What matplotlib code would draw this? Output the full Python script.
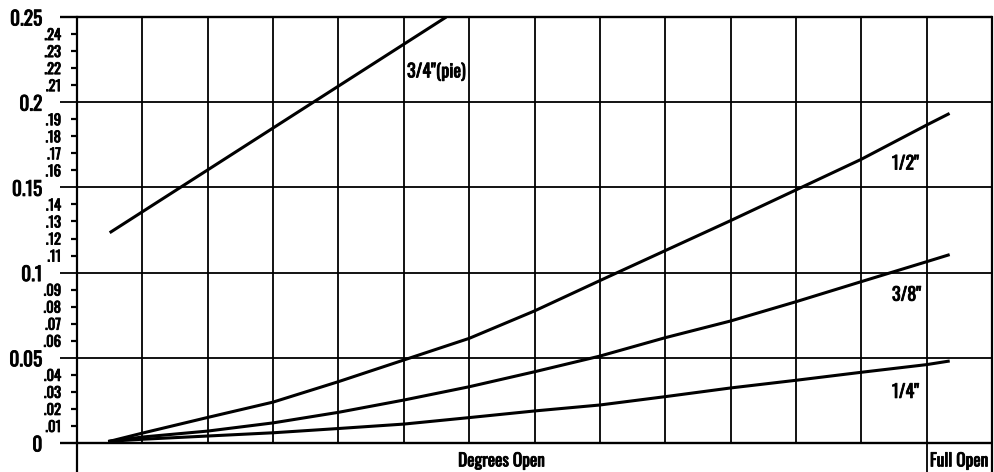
import matplotlib
matplotlib.use("Agg")
import matplotlib.pyplot as plt
from matplotlib import font_manager
import matplotlib.patheffects as pe
import numpy as np

# ---------------- data ----------------
x_pos = [0.5, 1, 2, 3, 4, 5, 6, 7, 8, 9, 10, 11, 12, 13, 13.33]
half_in = [0.001, 0.0058, 0.015, 0.024, 0.036, 0.0487, 0.0614, 0.0775, 0.0953,
           0.1129, 0.1305, 0.1485, 0.1665, 0.1866, 0.193]
three_eighth_in = [0.001, 0.0035, 0.007, 0.0118, 0.018, 0.0252, 0.033, 0.0418,
                   0.051, 0.0618, 0.0716, 0.0829, 0.0947, 0.1064, 0.1103]
quarter_in = [0.001, 0.0022, 0.0041, 0.006, 0.0085, 0.0111, 0.0149, 0.0188,
              0.0223, 0.0272, 0.0323, 0.0368, 0.0415, 0.046, 0.048]
pie_x = [0.5, 5.65]
pie_in = [0.1234, 0.25]

major_ticks = [0, 0.05, 0.1, 0.15, 0.2, 0.25]
major_labels = ["0", "0.05", "0.1", "0.15", "0.2", "0.25"]
minor_ticks = [i / 100 for i in range(1, 25) if i % 5 != 0]
minor_labels = ["." + f"{i:02d}" for i in range(1, 25) if i % 5 != 0]

series_labels = ['3/4"(pie)', '1/2"', '3/8"', '1/4"']
x_title = "Degrees Open"
x_end_label = "Full Open"

# ---------------- font ----------------
avail = {f.name for f in font_manager.fontManager.ttflist}
fam = "DejaVu Sans"
for cand in ["Oswald", "Antonio", "Pathway Gothic One", "Fjalla One",
             "Sofia Sans Extra Condensed", "Liberation Sans Narrow"]:
    if cand in avail:
        fam = cand
        break
plt.rcParams["font.family"] = [fam, "DejaVu Sans"]
WEIGHT = "bold"
BOLD = [pe.withStroke(linewidth=0.6, foreground="black")]

W, H = 995, 472
fig = plt.figure(figsize=(W / 100, H / 100), dpi=100)
x0, x1 = 77, 992
ytop, yzero = 17, 443
ppu = (yzero - ytop) / 0.25
ybot = -(H - yzero) / ppu
ax = fig.add_axes([x0 / W, 0, (x1 - x0) / W, 1 - ytop / H])
ax.set_xlim(0, 14)
ax.set_ylim(ybot, 0.25)

for s in ["bottom", "top"]:
    ax.spines[s].set_visible(False)
ax.spines["left"].set_linewidth(1.6)
ax.spines["right"].set_linewidth(1.6)

# grid
lw_grid = 1.3
ax.vlines(np.arange(1, 13), 0, 0.25, color="black", lw=lw_grid)
ax.vlines([13], ybot, 0.25, color="black", lw=lw_grid)
for t in major_ticks:
    ax.hlines(t, -17 / 65.36, 14, color="black",
              lw=lw_grid if t not in (0, 0.25) else 1.7, clip_on=False)

# ticks
ax.set_xticks([])
ax.set_yticks(major_ticks)
ax.set_yticklabels(major_labels)
ax.set_yticks(minor_ticks, minor=True)
ax.set_yticklabels(minor_labels, minor=True)
ax.tick_params(axis="y", which="major", length=0, pad=25, labelsize=14)
ax.tick_params(axis="y", which="minor", length=4.5, width=1.6, pad=7, labelsize=10.5)
for lab in ax.get_yticklabels(minor=False) + ax.get_yticklabels(minor=True):
    lab.set_fontweight(WEIGHT)
    lab.set_path_effects(BOLD)

# curves
lw_c = 2.2
ax.plot(pie_x, pie_in, color="black", lw=lw_c, solid_capstyle="butt")
ax.plot(x_pos, half_in, color="black", lw=lw_c)
ax.plot(x_pos, three_eighth_in, color="black", lw=lw_c)
ax.plot(x_pos, quarter_in, color="black", lw=lw_c)

fs = 13
kw = dict(fontweight=WEIGHT, path_effects=BOLD)
ax.text(5.05, 0.2177, series_labels[0], ha="left", va="center", fontsize=fs, **kw)
ax.text(12.47, 0.164, series_labels[1], ha="left", va="center", fontsize=fs, **kw)
ax.text(12.47, 0.087, series_labels[2], ha="left", va="center", fontsize=fs, **kw)
ax.text(12.47, 0.030, series_labels[3], ha="left", va="center", fontsize=fs, **kw)

ax.text(6.5, -0.0105, x_title, ha="center", va="center", fontsize=12.5, **kw)
ax.text(13.5, -0.0105, x_end_label, ha="center", va="center", fontsize=12.5, **kw)

fig.savefig("out.png", dpi=100)
